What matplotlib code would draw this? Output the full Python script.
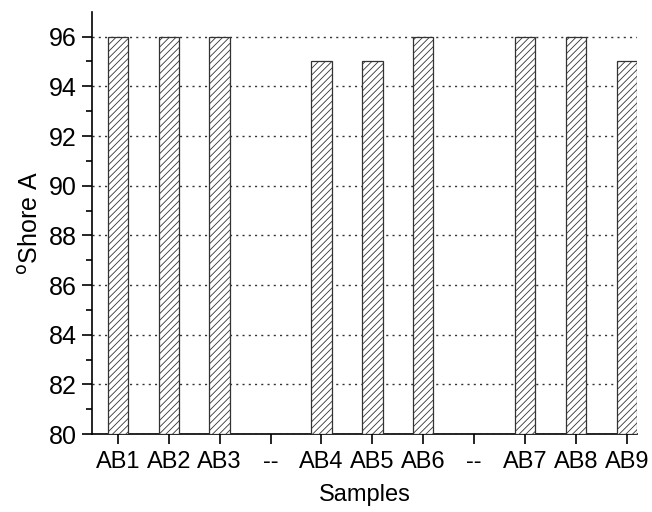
import matplotlib.pyplot as plt
import numpy as np

plt.rcParams['font.family'] = ['Liberation Sans', 'DejaVu Sans']
plt.rcParams['hatch.linewidth'] = 0.6

labels = ['AB1', 'AB2', 'AB3', '--', 'AB4', 'AB5', 'AB6', '--', 'AB7', 'AB8', 'AB9']
shore = [96, 96, 96, None, 95, 95, 96, None, 96, 96, 95]

fig = plt.figure(figsize=(6.52, 5.12), dpi=100)
ax = fig.add_axes([0.141, 0.152, 0.836, 0.825])

x = np.arange(len(labels))
for i, v in enumerate(shore):
    if v is None:
        continue
    ax.bar(x[i], v - 80, bottom=80, width=0.4, facecolor='white',
           edgecolor='#333333', hatch='/////', linewidth=0.9, zorder=3)

ax.set_xlim(-0.51, 10.2)
ax.set_ylim(80, 97)
ax.set_xticks(x)
ax.set_xticklabels(labels, fontsize=17)
ax.set_yticks(np.arange(80, 97, 2))
ax.set_yticks(np.arange(81, 97, 2), minor=True)
ax.tick_params(axis='y', labelsize=18, length=7, width=1.2, pad=4)
ax.tick_params(axis='y', which='minor', length=4, width=1.2)
ax.tick_params(axis='x', length=7, width=1.2, pad=5)
ax.yaxis.grid(True, linestyle=(0, (1.5, 3)), color='#333333', linewidth=1.0, zorder=0)
ax.set_axisbelow(True)

for s in ['top', 'right']:
    ax.spines[s].set_visible(False)
for s in ['left', 'bottom']:
    ax.spines[s].set_linewidth(1.2)

ax.set_xlabel('Samples', fontsize=17, labelpad=8)
ax.set_ylabel('$^{\\mathrm{o}}$Shore A', fontsize=18, labelpad=4)

fig.savefig('out.png', dpi=100)
